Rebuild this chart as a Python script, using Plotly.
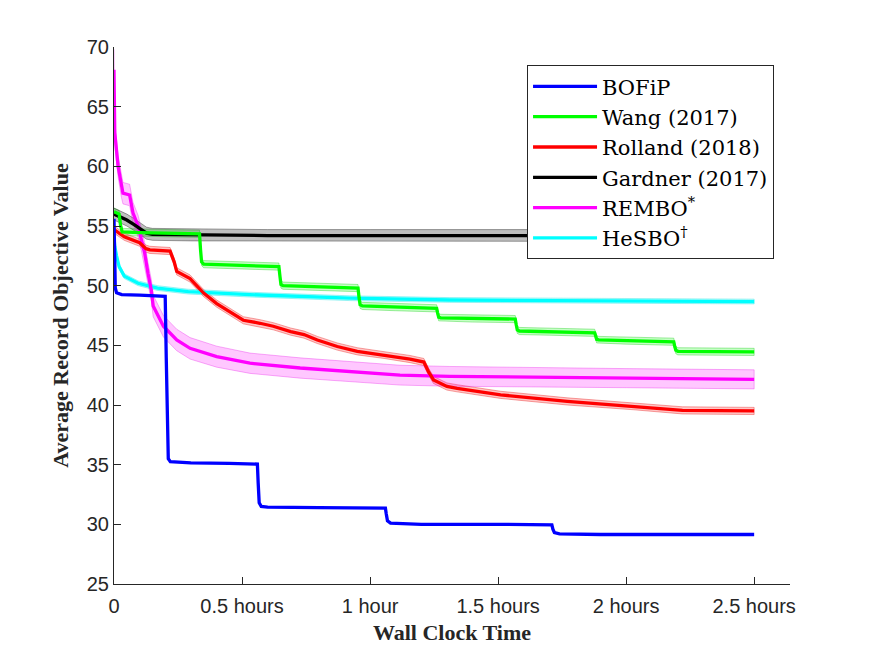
"""
Average record objective value vs wall clock time
for BOFiP and five high-dimensional BO baselines.
Mean curve + shaded error band per method.
"""

import numpy as np
import plotly.graph_objects as go

# ── Data (time in hours) ──────────────────────────────────────────────────
BOFIP_T = [0, 0.002, 0.005, 0.01, 0.03, 0.1, 0.2, 0.204, 0.208, 0.212, 0.22,
           0.3, 0.45, 0.56, 0.563, 0.567, 0.575, 0.6, 0.8, 1.06, 1.063, 1.068,
           1.08, 1.2, 1.5, 1.71, 1.714, 1.72, 1.74, 1.9, 2.2, 2.5]
BOFIP_V = [55.6, 51.5, 49.8, 49.4, 49.25, 49.2, 49.1, 44.0, 37.0, 35.5, 35.25,
           35.15, 35.1, 35.05, 33.5, 31.8, 31.5, 31.45, 31.4, 31.35, 30.9, 30.3,
           30.1, 30.0, 30.0, 29.95, 29.6, 29.3, 29.2, 29.15, 29.15, 29.15]
BOFIP_SD = 0.0

WANG_T = [0, 0.02, 0.026, 0.032, 0.1, 0.2, 0.334, 0.338, 0.342, 0.35, 0.5,
          0.644, 0.648, 0.652, 0.66, 0.8, 0.953, 0.957, 0.961, 0.97, 1.1,
          1.26, 1.264, 1.268, 1.276, 1.4, 1.567, 1.571, 1.575, 1.583, 1.7,
          1.877, 1.881, 1.885, 1.893, 2.0, 2.186, 2.19, 2.194, 2.202, 2.35, 2.5]
WANG_V = [56.2, 56.0, 55.0, 54.5, 54.45, 54.4, 54.35, 53.0, 52.0, 51.8, 51.7,
          51.6, 50.8, 50.1, 50.0, 49.9, 49.8, 49.0, 48.4, 48.3, 48.2,
          48.1, 47.7, 47.35, 47.3, 47.25, 47.2, 46.7, 46.3, 46.2, 46.15,
          46.05, 45.8, 45.5, 45.45, 45.4, 45.3, 44.9, 44.6, 44.5, 44.48, 44.45]
WANG_SD = 0.3

ROLLAND_T = [0, 0.04, 0.1, 0.125, 0.14, 0.219, 0.235, 0.245, 0.297, 0.349,
             0.401, 0.453, 0.505, 0.57, 0.622, 0.69, 0.742, 0.794, 0.872, 0.95,
             1.055, 1.156, 1.21, 1.228, 1.248, 1.30, 1.34, 1.51, 1.77, 2.03,
             2.22, 2.5]
ROLLAND_V = [54.7, 54.1, 53.6, 53.1, 53.0, 52.9, 52.0, 51.2, 50.6, 49.4,
             48.5, 47.8, 47.1, 46.85, 46.6, 46.15, 45.9, 45.45, 44.9, 44.5,
             44.2, 43.85, 43.6, 42.8, 42.1, 41.55, 41.4, 40.85, 40.3, 39.9,
             39.55, 39.5]
ROLLAND_SD = 0.3

GARDNER_T = [0, 0.05, 0.08, 0.127, 0.15, 0.3, 0.6, 1.0, 1.5, 2.0, 2.5]
GARDNER_V = [56.0, 55.5, 55.1, 54.4, 54.3, 54.25, 54.2, 54.2, 54.2, 54.2, 54.2]
GARDNER_SD = 0.5

REMBO_T = [0, 0.003, 0.016, 0.029, 0.035, 0.061, 0.074, 0.094, 0.107, 0.12,
           0.133, 0.146, 0.153, 0.193, 0.245, 0.297, 0.401, 0.531, 0.727,
           0.922, 1.117, 1.31, 1.51, 2.0, 2.5]
REMBO_V = [68.1, 62.8, 60.0, 58.3, 57.75, 57.6, 56.1, 55.0, 53.8, 52.7,
           51.0, 49.6, 48.3, 46.6, 45.45, 44.75, 44.05, 43.5, 43.1,
           42.8, 42.5, 42.4, 42.35, 42.25, 42.15]
REMBO_SD = [1.7, 1.0, 0.9, 0.9, 0.9, 0.9, 0.9, 0.9, 0.9, 0.9,
            0.9, 0.9, 0.9, 0.9, 0.9, 0.9, 0.88, 0.85, 0.85,
            0.85, 0.83, 0.83, 0.82, 0.8, 0.8]

HESBO_T = [0, 0.003, 0.01, 0.02, 0.04, 0.094, 0.17, 0.29, 0.53, 0.92, 1.31,
           1.9, 2.5]
HESBO_V = [54.0, 53.3, 52.5, 51.6, 50.8, 50.2, 49.8, 49.5, 49.25, 48.95, 48.8,
           48.72, 48.67]
HESBO_SD = 0.2

X_TICKS = [0, 0.5, 1, 1.5, 2, 2.5]
X_TICK_TEXT = ["0", "0.5 hours", "1 hour", "1.5 hours", "2 hours", "2.5 hours"]

# name, t, mean, spread, line colour, band fill, band edge
SERIES = [
    ("BOFiP", BOFIP_T, BOFIP_V, BOFIP_SD, "#0000FF",
     "rgba(0,0,255,0.2)", "rgba(0,0,255,0.3)"),
    ("Wang (2017)", WANG_T, WANG_V, WANG_SD, "#00FF00",
     "rgba(0,255,0,0.22)", "rgba(0,200,0,0.35)"),
    ("Rolland (2018)", ROLLAND_T, ROLLAND_V, ROLLAND_SD, "#FF0000",
     "rgba(255,0,0,0.22)", "rgba(230,0,0,0.35)"),
    ("Gardner (2017)", GARDNER_T, GARDNER_V, GARDNER_SD, "#000000",
     "rgba(0,0,0,0.25)", "rgba(0,0,0,0.35)"),
    ("REMBO<sup>*</sup>", REMBO_T, REMBO_V, REMBO_SD, "#FF00FF",
     "rgba(255,0,255,0.22)", "rgba(230,0,230,0.3)"),
    ("HeSBO<sup>†</sup>", HESBO_T, HESBO_V, HESBO_SD, "#00FFFF",
     "rgba(0,255,255,0.25)", "rgba(0,220,220,0.35)"),
]

AXIS_COL = "#262626"

fig = go.Figure()

# shaded bands first, underneath every mean line
for name, t, v, sd, col, fill, edge in SERIES:
    t = np.asarray(t, dtype=float)
    v = np.asarray(v, dtype=float)
    sd = np.broadcast_to(np.asarray(sd, dtype=float), v.shape)
    if not np.any(sd):
        continue
    fig.add_trace(go.Scatter(
        x=np.concatenate([t, t[::-1]]),
        y=np.concatenate([v + sd, (v - sd)[::-1]]),
        fill="toself", fillcolor=fill,
        line=dict(color=edge, width=1),
        mode="lines", hoverinfo="skip", showlegend=False,
    ))

# mean lines, drawn last-to-first so BOFiP ends up on top
for rank, (name, t, v, sd, col, fill, edge) in reversed(list(enumerate(SERIES))):
    fig.add_trace(go.Scatter(
        x=t, y=v, mode="lines", name=name,
        line=dict(color=col, width=3.3),
        legendrank=rank + 1,
    ))

# page body has an 8px default margin, so the figure is 8px smaller
fig.update_layout(
    width=867, height=648,
    margin=dict(l=106, r=85, t=39, b=72),
    paper_bgcolor="white", plot_bgcolor="white",
    showlegend=True,
    legend=dict(
        x=0.611, y=0.966, xanchor="left", yanchor="top",
        bgcolor="white", bordercolor=AXIS_COL, borderwidth=1,
        font=dict(family="DejaVu Serif", size=21, color="black"),
        traceorder="normal", itemwidth=64,
    ),
)

fig.update_xaxes(
    range=[0, 2.64], tickvals=X_TICKS, ticktext=X_TICK_TEXT,
    ticks="inside", ticklen=7, tickcolor=AXIS_COL,
    showline=True, linecolor=AXIS_COL, linewidth=1,
    showgrid=False, zeroline=False, automargin=False,
    ticklabelstandoff=4,
    tickfont=dict(family="Liberation Sans", size=20, color=AXIS_COL),
    title=dict(text="Wall Clock Time", standoff=8,
               font=dict(family="Liberation Serif", size=22,
                         color=AXIS_COL, weight="bold")),
)
fig.update_yaxes(
    range=[25, 70], dtick=5,
    ticks="inside", ticklen=7, tickcolor=AXIS_COL,
    showline=True, linecolor=AXIS_COL, linewidth=1,
    showgrid=False, zeroline=False, automargin=False,
    tickfont=dict(family="Liberation Sans", size=20, color=AXIS_COL),
    title=dict(text="Average Record Objective Value", standoff=12,
               font=dict(family="Liberation Serif", size=22,
                         color=AXIS_COL, weight="bold")),
)

fig.write_html("out.html")
